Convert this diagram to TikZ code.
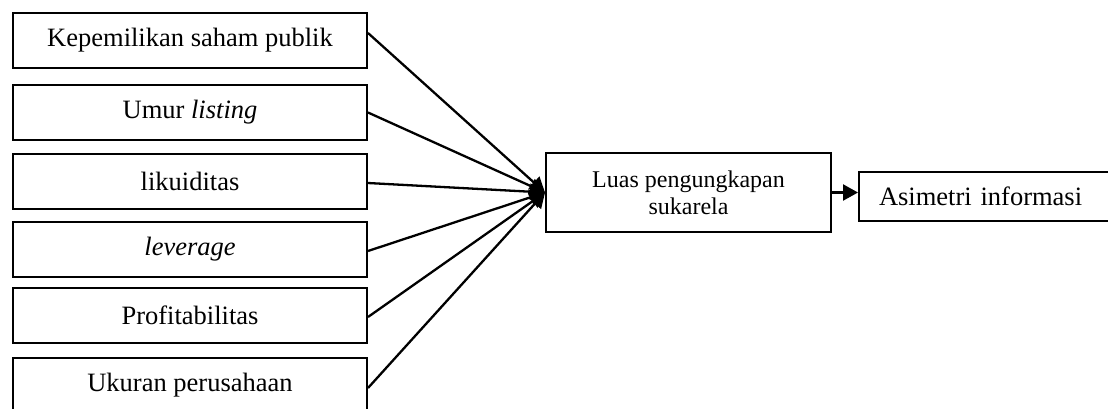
\documentclass[tikz,border=0pt]{standalone}
\usepackage{fontspec}
\setmainfont{Liberation Serif}
\usetikzlibrary{arrows.meta}
\tikzset{
  leftbox/.style={draw, line width=2pt, minimum width=354pt, minimum height=55pt, inner sep=0pt, font=\fontsize{26.5}{30}\selectfont},
  midbox/.style={draw, line width=2pt, minimum width=285pt, minimum height=79pt, inner sep=0pt, align=center, font=\fontsize{24}{27}\selectfont},
  rightbox/.style={draw, line width=2pt, minimum height=49pt, inner xsep=20pt, inner ysep=0pt, text width=237pt, align=left, font=\fontsize{26.5}{30}\selectfont},
  link/.style={line width=2.3pt, -{Triangle[length=15pt,width=16pt]}}
}
\begin{document}
\begin{tikzpicture}[x=1pt,y=-1pt]
\useasboundingbox (0,0) rectangle (1108,408);
\node[leftbox] (b1) at (190,40.5) {Kepemilikan saham publik};
\node[leftbox] (b2) at (190,112.5) {Umur \textit{listing}};
\node[leftbox] (b3) at (190,181) {likuiditas};
\node[leftbox] (b4) at (190,249.5) {\textit{leverage}};
\node[leftbox] (b5) at (190,315.5) {Profitabilitas};
\node[leftbox] (b6) at (190,385.5) {Ukuran perusahaan};
\node[midbox] (L) at (688.5,192.5) {Luas pengungkapan\\sukarela};
\node[rightbox, anchor=west] (A) at (858,196.5) {Asimetri informasi};
\draw[link] ([yshift=7.5pt]b1.east) -- (L.west);
\draw[link] (b2.east) -- (L.west);
\draw[link] ([yshift=-2pt]b3.east) -- (L.west);
\draw[link] ([yshift=-1.5pt]b4.east) -- (L.west);
\draw[link] ([yshift=-1.5pt]b5.east) -- (L.west);
\draw[link] ([yshift=-2.5pt]b6.east) -- (L.west);
\draw[link] (L.east) -- (L.east -| A.west);
\end{tikzpicture}
\end{document}
